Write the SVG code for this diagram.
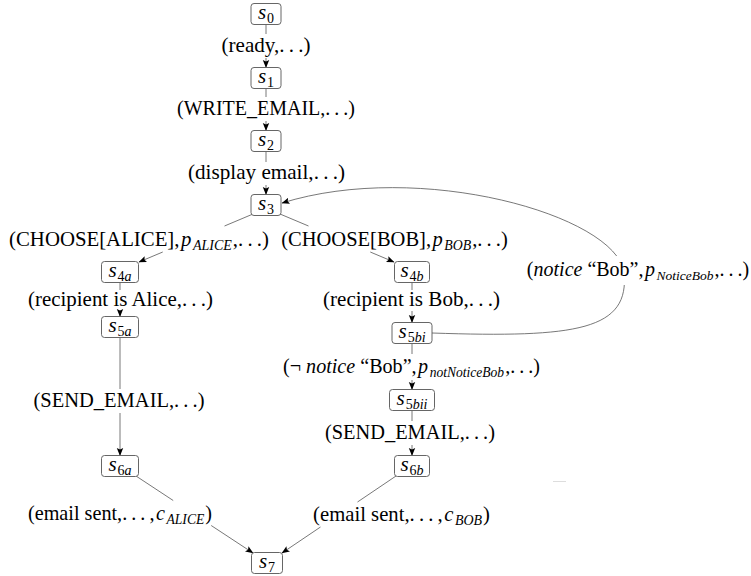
<svg xmlns="http://www.w3.org/2000/svg" width="751" height="576" viewBox="0 0 751 576">
<defs>
<marker id="arr" viewBox="0 0 8 8" refX="7.5" refY="4" markerWidth="8" markerHeight="8" markerUnits="userSpaceOnUse" orient="auto">
<path d="M0,0.8 L8,4 L0,7.2 L1.6,4 z" fill="#000"/>
</marker>
<style>
.box{fill:#fff;stroke:#555;stroke-width:0.9}
.e{fill:none;stroke:#555;stroke-width:0.8}
.a{marker-end:url(#arr)}
.bg{fill:#fff}
text{font-family:"Liberation Serif","DejaVu Serif",serif;fill:#000}
.lbl{font-size:21.5px;text-anchor:middle}
.nd{font-size:21px;text-anchor:middle}
.i{font-style:italic}
.sub{font-size:0.675em}
.nsub{font-size:14px}
</style>
</defs>
<rect width="751" height="576" fill="#fff"/>
<g id="connectors">
<path class="e a" d="M266,24.5 V34 M266,58 V67.5"/>
<path class="e a" d="M266,88.5 V97 M266,121 V130.5"/>
<path class="e a" d="M266,151.5 V162 M266,185 V194.5"/>
<path class="e a" d="M253,214 L224.5,226 M162.75,252 L139,262"/>
<path class="e a" d="M280,214 L308.5,226 M370.25,252 L394,262"/>
<path class="e a" d="M120,282.5 V290 M120,311 V316.5"/>
<path class="e a" d="M120,337.5 V389 M120,413 V455.5"/>
<path class="e a" d="M412,282.5 V290 M412,311 V322.5"/>
<path class="e a" d="M412,343.5 V354 M412,380 V389.5"/>
<path class="e a" d="M412,410.5 V421 M412,445 V455.5"/>
<path class="e a" d="M136,476 L173.2,500.5 M211.2,525.5 L253,553"/>
<path class="e a" d="M396,476 L357.5,502 M320.5,527 L282,553"/>
<path class="e a" d="M432,333 C578,338 630,330 624,272 C615,215 420,160 282,203"/>
<line x1="553" y1="481.5" x2="566" y2="481.5" stroke="#ddd" stroke-width="1"/>
</g>
<g id="labels">
<g id="l-ready"><text class="lbl" x="266" y="52" textLength="89" lengthAdjust="spacingAndGlyphs">(ready,.&#8201;.&#8201;.)</text></g>
<g id="l-write"><text class="lbl" x="266" y="115" textLength="178" lengthAdjust="spacingAndGlyphs">(WRITE_EMAIL,.&#8201;.&#8201;.)</text></g>
<g id="l-display"><text class="lbl" x="266.5" y="179" textLength="157" lengthAdjust="spacingAndGlyphs">(display email,.&#8201;.&#8201;.)</text></g>
<g id="l-alice"><text class="lbl" x="139" y="246" style="font-size:20.8px">(CHOOSE[ALICE],<tspan class="i" dx="1.5">p</tspan><tspan class="sub i" dx="1.5" dy="4">ALICE</tspan><tspan dx="1" dy="-4">,.&#8201;.&#8201;.)</tspan></text></g>
<g id="l-bob"><text class="lbl" x="394.5" y="246" style="font-size:20.5px">(CHOOSE[BOB],<tspan class="i" dx="1.5">p</tspan><tspan class="sub i" dx="1.5" dy="4">BOB</tspan><tspan dx="1" dy="-4">,.&#8201;.&#8201;.)</tspan></text></g>
<g id="l-recA"><text class="lbl" x="120.5" y="306" textLength="185" lengthAdjust="spacingAndGlyphs">(recipient is Alice,.&#8201;.&#8201;.)</text></g>
<g id="l-recB"><text class="lbl" x="411.5" y="306" textLength="177" lengthAdjust="spacingAndGlyphs">(recipient is Bob,.&#8201;.&#8201;.)</text></g>
<g id="l-notice"><rect class="bg" x="527" y="256" width="222" height="29"/><text class="lbl" x="638" y="276" style="font-size:20px">(<tspan class="i">notice</tspan> “Bob”,<tspan class="i" dx="1.5">p</tspan><tspan class="sub i" dx="1.5" dy="4">NoticeBob</tspan><tspan dx="1" dy="-4">,.&#8201;.&#8201;.)</tspan></text></g>
<g id="l-notnotice"><text class="lbl" x="411.5" y="373" style="font-size:20.1px">(¬ <tspan class="i">notice</tspan> “Bob”,<tspan class="i" dx="1.5">p</tspan><tspan class="sub i" dx="1.5" dy="4">notNoticeBob</tspan><tspan dx="1" dy="-4">,.&#8201;.&#8201;.)</tspan></text></g>
<g id="l-sendA"><text class="lbl" x="119" y="407" textLength="171" lengthAdjust="spacingAndGlyphs">(SEND_EMAIL,.&#8201;.&#8201;.)</text></g>
<g id="l-sendB"><text class="lbl" x="410" y="439" textLength="170" lengthAdjust="spacingAndGlyphs">(SEND_EMAIL,.&#8201;.&#8201;.)</text></g>
<g id="l-sentA"><text class="lbl" x="120" y="520" style="font-size:20.2px">(email sent,.&#8201;.&#8201;.&#8201;,<tspan class="i" dx="1.5">c</tspan><tspan class="sub i" dx="1.5" dy="4">ALICE</tspan><tspan dx="1" dy="-4">)</tspan></text></g>
<g id="l-sentB"><text class="lbl" x="401.5" y="521" style="font-size:20.7px">(email sent,.&#8201;.&#8201;.&#8201;,<tspan class="i" dx="1.5">c</tspan><tspan class="sub i" dx="1.5" dy="4">BOB</tspan><tspan dx="1" dy="-4">)</tspan></text></g>
</g>
<g id="s0"><rect class="box" x="251" y="3.5" width="30" height="21" rx="3"/><text class="nd" x="266" y="19"><tspan class="i">s</tspan><tspan class="nsub" dx="1" dy="3.5">0</tspan></text></g>
<g id="s1"><rect class="box" x="251" y="67.5" width="30" height="21" rx="3"/><text class="nd" x="266" y="83"><tspan class="i">s</tspan><tspan class="nsub" dx="1" dy="3.5">1</tspan></text></g>
<g id="s2"><rect class="box" x="251" y="130.5" width="30" height="21" rx="3"/><text class="nd" x="266" y="146"><tspan class="i">s</tspan><tspan class="nsub" dx="1" dy="3.5">2</tspan></text></g>
<g id="s3"><rect class="box" x="251" y="194.5" width="30" height="21" rx="3"/><text class="nd" x="266" y="210"><tspan class="i">s</tspan><tspan class="nsub" dx="1" dy="3.5">3</tspan></text></g>
<g id="s4a"><rect class="box" x="101.5" y="261.5" width="37" height="21" rx="3"/><text class="nd" x="120" y="277"><tspan class="i">s</tspan><tspan class="nsub" dx="1" dy="3.5">4<tspan class="i">a</tspan></tspan></text></g>
<g id="s4b"><rect class="box" x="394.5" y="261.5" width="35" height="21" rx="3"/><text class="nd" x="412" y="277"><tspan class="i">s</tspan><tspan class="nsub" dx="1" dy="3.5">4<tspan class="i">b</tspan></tspan></text></g>
<g id="s5a"><rect class="box" x="101.5" y="316.5" width="37" height="21" rx="3"/><text class="nd" x="120" y="332"><tspan class="i">s</tspan><tspan class="nsub" dx="1" dy="3.5">5<tspan class="i">a</tspan></tspan></text></g>
<g id="s5bi"><rect class="box" x="392" y="322.5" width="40" height="21" rx="3"/><text class="nd" x="412" y="338"><tspan class="i">s</tspan><tspan class="nsub" dx="1" dy="3.5">5<tspan class="i">bi</tspan></tspan></text></g>
<g id="s5bii"><rect class="box" x="389.5" y="389.5" width="45" height="21" rx="3"/><text class="nd" x="412" y="405"><tspan class="i">s</tspan><tspan class="nsub" dx="1" dy="3.5">5<tspan class="i">bii</tspan></tspan></text></g>
<g id="s6a"><rect class="box" x="101.5" y="455.5" width="37" height="21" rx="3"/><text class="nd" x="120" y="471"><tspan class="i">s</tspan><tspan class="nsub" dx="1" dy="3.5">6<tspan class="i">a</tspan></tspan></text></g>
<g id="s6b"><rect class="box" x="394.5" y="455.5" width="35" height="21" rx="3"/><text class="nd" x="412" y="471"><tspan class="i">s</tspan><tspan class="nsub" dx="1" dy="3.5">6<tspan class="i">b</tspan></tspan></text></g>
<g id="s7"><rect class="box" x="251.5" y="552.5" width="31" height="21" rx="3"/><text class="nd" x="267" y="568"><tspan class="i">s</tspan><tspan class="nsub" dx="1" dy="3.5">7</tspan></text></g>
</svg>
